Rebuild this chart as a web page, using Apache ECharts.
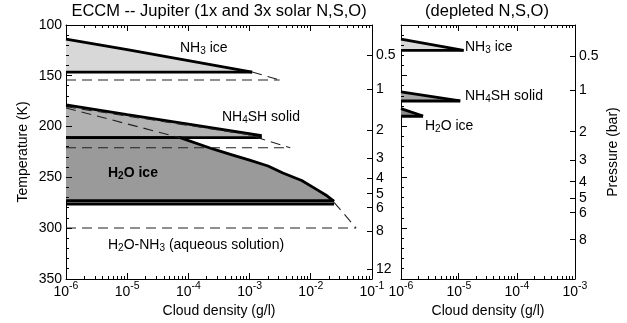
<!DOCTYPE html>
<html><head><meta charset="utf-8">
<script src="https://cdn.jsdelivr.net/npm/echarts@6/dist/echarts.min.js"></script>
<style>html,body{margin:0;padding:0;background:#fff}#c{width:627px;height:323px;background:#fff}</style>
</head><body><div id="c"></div>
<script>
const FONT = '"Liberation Sans", Arial, Helvetica, sans-serif';

// ---- axes ----
const tempMin = 100, tempMax = 350, tempStep = 50, tempMinorStep = 10;
const leftDensityMin = 1e-6, leftDensityMax = 1e-1;
const rightDensityMin = 1e-6, rightDensityMax = 1e-3;
const minorMultipliers = [2, 3, 4, 5, 6, 7, 8, 9];

const leftPressureLabels = ['0.5', '1', '2', '3', '4', '5', '6', '8', '12'];
const leftPressureTemps = [130.0, 163.5, 203.8, 231.2, 250.6, 266.3, 280.1, 302.8, 340.2];
const rightPressureLabels = ['0.5', '1', '2', '3', '4', '5', '6', '8'];
const rightPressureTemps = [131.0, 164.5, 205.3, 233.4, 254.5, 270.3, 285.0, 311.6];

// ---- left panel: 1x solar (solid) ----
const nh3Top1x = [[1e-6, 113.8], [1e-5, 124.3], [1e-4, 135.0], [1.1e-3, 146.3]];
const nh3Base1x = [[1e-6, 146.3], [1.1e-3, 146.3]];
const nh4shTop1x = [[1e-6, 178.7], [1e-5, 188.2], [1e-4, 197.6], [1.58e-3, 209.0]];
const nh4shBase1x = [[1e-6, 210.9], [1.58e-3, 210.9]];
const h2oTop1x = [[1e-6, 210.9], [7.3e-5, 210.9], [2.5e-4, 222.0], [5.0e-4, 227.5], [1.0e-3, 233.0],
  [2.0e-3, 238.8], [3.5e-3, 245.7], [7.1e-3, 253.0], [1.26e-2, 262.0], [1.78e-2, 267.5], [2.4e-2, 273.5]];
const h2oBase1x = [[1e-6, 273.0], [2.4e-2, 273.0]];
const h2oBase1xB = [[1e-6, 276.3], [2.4e-2, 276.3]];

// ---- left panel: 3x solar (dashed) ----
const nh3Edge3x = [[1.1e-3, 146.3], [3.1e-3, 154.1]];
const nh3Base3x = [[1e-6, 154.1], [3.1e-3, 154.1]];
const nh4shTop3x = [[1e-6, 180.4], [9e-4, 207.6], [4.6e-3, 220.8]];
const nh4shBase3x = [[1e-6, 220.8], [4.6e-3, 220.8]];
const h2oTop3x = [[1e-6, 181.7], [7.3e-5, 210.9]];
const h2oEdge3x = [[2.4e-2, 274.5], [5.5e-2, 299.8]];
const h2oBase3x = [[1e-6, 299.8], [5.5e-2, 299.8]];

// ---- right panel: depleted ----
const nh3TopDep = [[1e-6, 113.8], [1.2e-5, 125.0]];
const nh3BaseDep = [[1e-6, 125.0], [1.2e-5, 125.0]];
const nh4shTopDep = [[1e-6, 165.9], [1.05e-5, 174.6]];
const nh4shBaseDep = [[1e-6, 174.8], [1.05e-5, 174.8]];
const h2oTopDep = [[1e-6, 182.3], [2.4e-6, 189.6]];
const h2oBaseDep = [[1e-6, 189.8], [2.4e-6, 189.8]];

const COL_NH3 = '#d8d8d8', COL_NH4SH = '#b2b2b2', COL_H2O = '#9a9a9a';
const COL_NH4SH_R = '#a6a6a6', COL_H2O_R = '#8c8c8c';

function fill(xi, yi, top, base, color) {
  const pts = top.concat(base.slice().reverse());
  return {
    type: 'custom', xAxisIndex: xi, yAxisIndex: yi, data: [top[0]], silent: true, z: 1,
    renderItem(params, api) {
      return { type: 'polygon', shape: { points: pts.map(p => api.coord(p)) }, style: { fill: color, stroke: null } };
    }
  };
}
function line(xi, yi, data, dashed, width) {
  return {
    type: 'line', xAxisIndex: xi, yAxisIndex: yi, data: data, symbol: 'none', silent: true, z: dashed ? 4 : 3,
    lineStyle: { color: dashed ? '#222' : '#000', width: width || (dashed ? 1.1 : 2.8), type: dashed ? [10, 6] : 'solid', cap: 'butt' }
  };
}

// tick specs of a panel frame: [density, temperature, dx, dy]
function tickSpecs(dLo, dHi, pressTemps) {
  const ticks = [];
  const e0 = Math.round(Math.log10(dLo)), e1 = Math.round(Math.log10(dHi));
  for (let e = e0; e <= e1; e++) {
    const v = Math.pow(10, e);
    ticks.push([v, tempMax, 0, -6], [v, tempMin, 0, 6]);
    if (e < e1) minorMultipliers.forEach(m => {
      const mv = m * v;
      ticks.push([mv, tempMax, 0, -3], [mv, tempMin, 0, 3]);
    });
  }
  for (let t = tempMin; t <= tempMax; t += tempMinorStep) {
    ticks.push([dLo, t, (t % tempStep === 0) ? 6 : 3, 0]);
  }
  pressTemps.forEach(t => ticks.push([dHi, t, -5, 0]));
  return ticks;
}
function tickRect(p, t) {
  if (t[2] === 0) {
    return { x: Math.round(p[0] - 0.5), y: Math.min(p[1], p[1] + t[3]), width: 1, height: Math.abs(t[3]) };
  }
  return { x: Math.min(p[0], p[0] + t[2]), y: Math.round(p[1] - 0.5), width: Math.abs(t[2]), height: 1 };
}

const supRich = {
  b: { fontSize: 14, lineHeight: 22, fontFamily: FONT, color: '#000' },
  s: { fontSize: 10.5, lineHeight: 12, verticalAlign: 'top', fontFamily: FONT, color: '#000' }
};
function logLabel(v) { return '{b|10}{s|' + Math.round(Math.log10(v)) + '}'; }

function pressureFmt(temps, labels) {
  return v => { let bi = 0, bd = Infinity; temps.forEach((t, i) => { const d = Math.abs(t - v); if (d < bd) { bd = d; bi = i; } }); return labels[bi]; };
}

function xAxisDef(grid, pos, lo, hi, withLabel) {
  return {
    type: 'log', logBase: 10, gridIndex: grid, position: pos, min: lo, max: hi, splitNumber: Math.round(Math.log10(hi / lo)),
    axisLine: { show: true, onZero: false, lineStyle: { color: '#000', width: 1 } },
    axisTick: { show: false },
    axisLabel: withLabel ? { show: true, formatter: logLabel, rich: supRich, margin: 2 } : { show: false },
    splitLine: { show: false },
    name: withLabel ? 'Cloud density (g/l)' : '', nameLocation: 'middle', nameGap: 22,
    nameTextStyle: { fontSize: 14, color: '#000', fontFamily: FONT }
  };
}
function yTemp(grid, withLabel) {
  return {
    type: 'value', gridIndex: grid, position: 'left', min: tempMin, max: tempMax, interval: tempStep, inverse: true,
    axisLine: { show: true, onZero: false, lineStyle: { color: '#000', width: 1 } },
    axisTick: { show: false },
    axisLabel: withLabel ? { show: true, fontSize: 14, color: '#000', fontFamily: FONT, margin: 4 } : { show: false },
    splitLine: { show: false },
    name: withLabel ? 'Temperature (K)' : '', nameLocation: 'middle', nameGap: 36,
    nameTextStyle: { fontSize: 14, color: '#000', fontFamily: FONT }
  };
}
function yPressure(grid, temps, labels, withName) {
  return {
    type: 'value', gridIndex: grid, position: 'right', min: tempMin, max: tempMax, inverse: true,
    axisLine: { show: true, onZero: false, lineStyle: { color: '#000', width: 1 } },
    axisTick: { show: false },
    axisLabel: { show: true, customValues: temps, formatter: pressureFmt(temps, labels), fontSize: 14, color: '#000', fontFamily: FONT, margin: 4 },
    splitLine: { show: false },
    name: withName ? 'Pressure (bar)' : '', nameLocation: 'middle', nameGap: 31,
    nameTextStyle: { fontSize: 14, color: '#000', fontFamily: FONT }
  };
}

function label(x, y, text, bold) {
  return {
    type: 'text', x: x, y: y, z: 10, silent: true,
    style: {
      text: text, fontSize: 14, fontWeight: bold ? 'bold' : 'normal', fontFamily: FONT, fill: '#000', lineHeight: 17,
      align: 'left', verticalAlign: 'middle', textAlign: 'left', textVerticalAlign: 'middle',
      rich: { sub: { fontSize: 10, lineHeight: 11, verticalAlign: 'bottom', fontFamily: FONT, fill: '#000', fontWeight: bold ? 'bold' : 'normal' } }
    }
  };
}
function title(x, y, text) {
  return {
    type: 'text', x: x, y: y, silent: true,
    style: { text: text, fontSize: 16.5, fontFamily: FONT, fill: '#000', align: 'center', verticalAlign: 'middle', textAlign: 'center', textVerticalAlign: 'middle' }
  };
}

const baseGraphics = [
  title(219, 11, 'ECCM -- Jupiter (1x and 3x solar N,S,O)'),
  title(487, 11, '(depleted N,S,O)'),
  label(180, 48, 'NH{sub|3} ice'),
  label(222, 117, 'NH{sub|4}SH solid'),
  label(108, 173, 'H{sub|2}O ice', true),
  label(108, 245, 'H{sub|2}O-NH{sub|3} (aqueous solution)'),
  label(465, 47, 'NH{sub|3} ice'),
  label(465, 96, 'NH{sub|4}SH solid'),
  label(425, 126, 'H{sub|2}O ice')
];

const chart = echarts.init(document.getElementById('c'), null, { renderer: 'canvas' });
chart.setOption({
  animation: false,
  grid: [
    { left: 66, top: 25, width: 306, height: 254, containLabel: false },
    { left: 401, top: 25, width: 174, height: 254, containLabel: false }
  ],
  xAxis: [
    xAxisDef(0, 'bottom', leftDensityMin, leftDensityMax, true),
    xAxisDef(0, 'top', leftDensityMin, leftDensityMax, false),
    xAxisDef(1, 'bottom', rightDensityMin, rightDensityMax, true),
    xAxisDef(1, 'top', rightDensityMin, rightDensityMax, false)
  ],
  yAxis: [
    yTemp(0, true),
    yPressure(0, leftPressureTemps, leftPressureLabels, false),
    yTemp(1, false),
    yPressure(1, rightPressureTemps, rightPressureLabels, true)
  ],
  graphic: baseGraphics,
  series: [
    fill(0, 0, nh3Top1x, nh3Base1x, COL_NH3),
    fill(0, 0, nh4shTop1x, nh4shBase1x, COL_NH4SH),
    fill(0, 0, h2oTop1x, h2oBase1x, COL_H2O),
    line(0, 0, nh3Top1x), line(0, 0, nh3Base1x),
    line(0, 0, nh4shTop1x), line(0, 0, nh4shBase1x),
    line(0, 0, h2oTop1x), line(0, 0, h2oBase1x, false, 3), line(0, 0, h2oBase1xB, false, 3),
    line(0, 0, nh3Edge3x, true), line(0, 0, nh3Base3x, true),
    line(0, 0, nh4shTop3x, true), line(0, 0, nh4shBase3x, true),
    line(0, 0, h2oTop3x, true), line(0, 0, h2oEdge3x, true), line(0, 0, h2oBase3x, true),
    fill(2, 2, nh3TopDep, nh3BaseDep, COL_NH3),
    fill(2, 2, nh4shTopDep, nh4shBaseDep, COL_NH4SH_R),
    fill(2, 2, h2oTopDep, h2oBaseDep, COL_H2O_R),
    line(2, 2, nh3TopDep), line(2, 2, nh3BaseDep),
    line(2, 2, nh4shTopDep), line(2, 2, nh4shBaseDep),
    line(2, 2, h2oTopDep), line(2, 2, h2oBaseDep)
  ]
});

// frame tick marks, positioned through the axes' own scales
try {
  const tickEls = [];
  [[0, 0, leftDensityMin, leftDensityMax, leftPressureTemps], [2, 2, rightDensityMin, rightDensityMax, rightPressureTemps]]
    .forEach(([xi, yi, lo, hi, pt]) => {
      tickSpecs(lo, hi, pt).forEach(t => {
        const p = chart.convertToPixel({ xAxisIndex: xi, yAxisIndex: yi }, [t[0], t[1]]);
        if (p && isFinite(p[0]) && isFinite(p[1])) {
          tickEls.push({ type: 'rect', silent: true, z: 50, shape: tickRect(p, t), style: { fill: '#000' } });
        }
      });
    });
  chart.setOption({ graphic: baseGraphics.concat(tickEls) });
} catch (e) { /* keep chart without extra ticks */ }
</script>
</body></html>
